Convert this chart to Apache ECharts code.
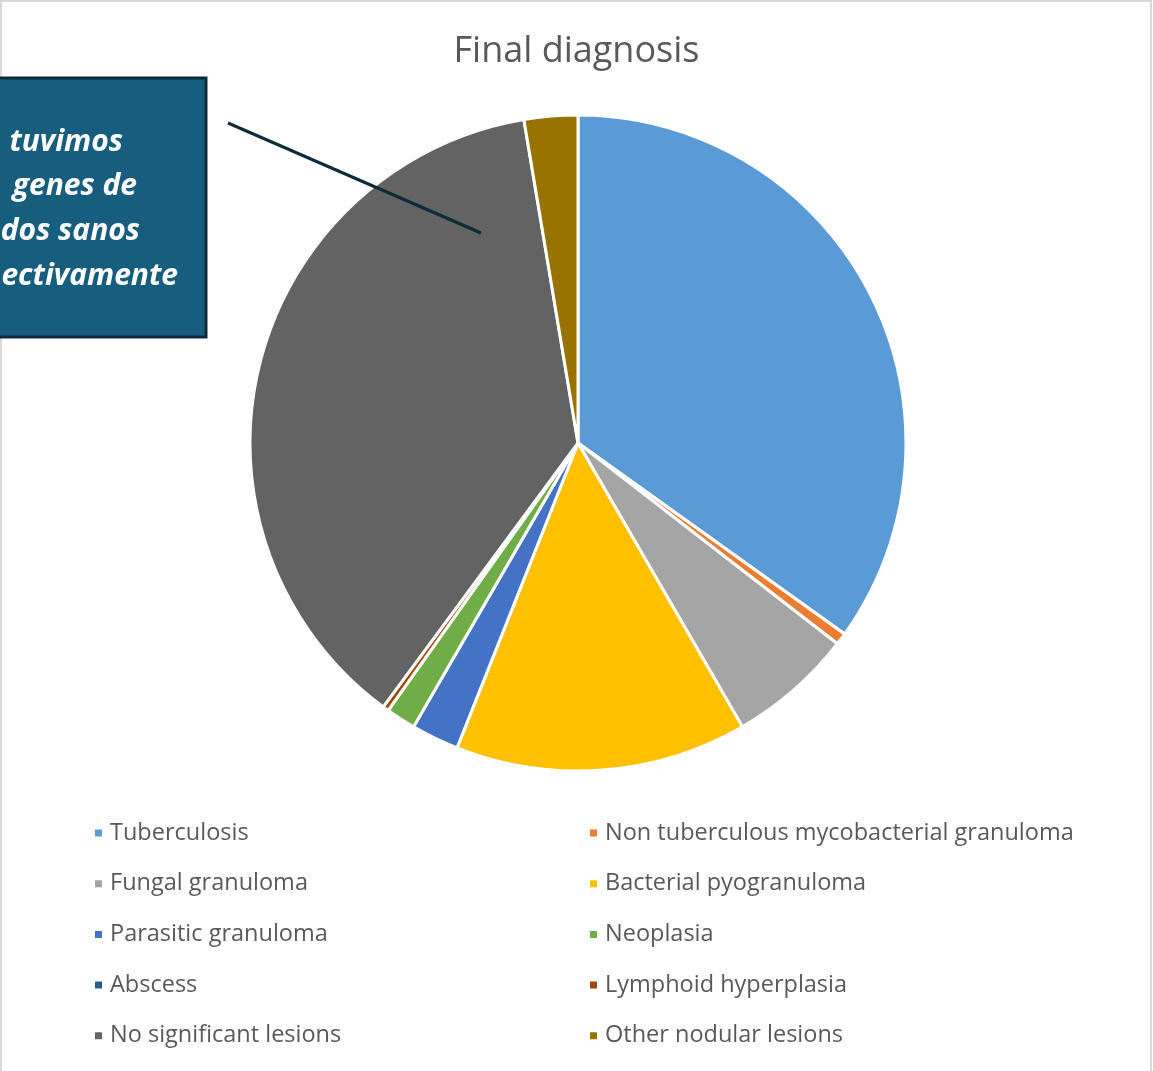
<!DOCTYPE html>
<html>
<head>
<meta charset="utf-8">
<title>Final diagnosis</title>
<script src="https://cdn.jsdelivr.net/npm/echarts@6/dist/echarts.min.js"></script>
<style>
  html, body { margin: 0; padding: 0; background: #fff; }
  #main { width: 1153px; height: 1071px; }
</style>
</head>
<body>
<div id="main"></div>
<script>
// categories and counts
var categories = ['Tuberculosis', 'Non tuberculous mycobacterial granuloma', 'Fungal granuloma',
  'Bacterial pyogranuloma', 'Parasitic granuloma', 'Neoplasia', 'Abscess',
  'Lymphoid hyperplasia', 'No significant lesions', 'Other nodular lesions'];
var counts = [119, 2, 21, 49, 8, 5, 0, 1, 127, 9];
var colors = ['#5B9BD5', '#ED7D31', '#A5A5A5', '#FFC000', '#4472C4', '#70AD47', '#255E91',
  '#9E480E', '#636363', '#997300'];

// callout text (partly cut off at the left edge in the original)
var calloutLines = ['tuvimos', 'genes de', 'dos sanos', 'ectivamente'];
var calloutRight = [123, 137, 140, 178];

var leftCol = [], rightCol = [];
categories.forEach(function (c, i) { (i % 2 === 0 ? leftCol : rightCol).push(c); });

var legendBase = {
  orient: 'vertical',
  top: 816,
  itemWidth: 9,
  itemHeight: 9,
  itemGap: 26.7,
  icon: 'rect',
  selectedMode: false,
  textStyle: { fontFamily: 'Open Sans', fontSize: 23.5, color: '#595959', lineHeight: 24, padding: [0, 0, 0, 2] }
};

var chart = echarts.init(document.getElementById('main'));

var graphics = [
  { type: 'rect', shape: { x: 1, y: 1, width: 1150, height: 1080 },
    style: { fill: 'none', stroke: '#d9d9d9', lineWidth: 2 }, z: 0 },
  { type: 'line', shape: { x1: 228, y1: 123, x2: 481, y2: 233 },
    style: { stroke: '#0e2a3b', lineWidth: 3 }, z: 100 },
  { type: 'rect', shape: { x: -20, y: 78, width: 226, height: 259 },
    style: { fill: '#175E7E', stroke: '#0e2a3b', lineWidth: 3 }, z: 100 }
];
calloutLines.forEach(function (t, i) {
  graphics.push({
    type: 'text', x: calloutRight[i], y: 142 + i * 44.7, z: 101,
    style: { text: t, fill: '#fff', align: 'right', verticalAlign: 'middle',
      font: 'italic bold 30px "Open Sans"' }
  });
});

var option = {
  backgroundColor: '#fff',
  animation: false,
  color: colors,
  title: {
    text: 'Final diagnosis',
    left: 'center',
    top: 29,
    textStyle: { fontFamily: 'Open Sans', fontWeight: 'normal', fontSize: 36, color: '#595959' }
  },
  legend: [
    Object.assign({}, legendBase, { left: 88, data: leftCol }),
    Object.assign({}, legendBase, { left: 583, data: rightCol })
  ],
  graphic: graphics,
  series: [{
    type: 'pie',
    center: [578, 443],
    radius: 328,
    startAngle: 90,
    clockwise: true,
    label: { show: false },
    labelLine: { show: false },
    emphasis: { disabled: true },
    itemStyle: { borderColor: '#fff', borderWidth: 3 },
    data: categories.map(function (c, i) { return { name: c, value: counts[i] }; })
  }]
};

chart.setOption(option);
</script>
</body>
</html>
